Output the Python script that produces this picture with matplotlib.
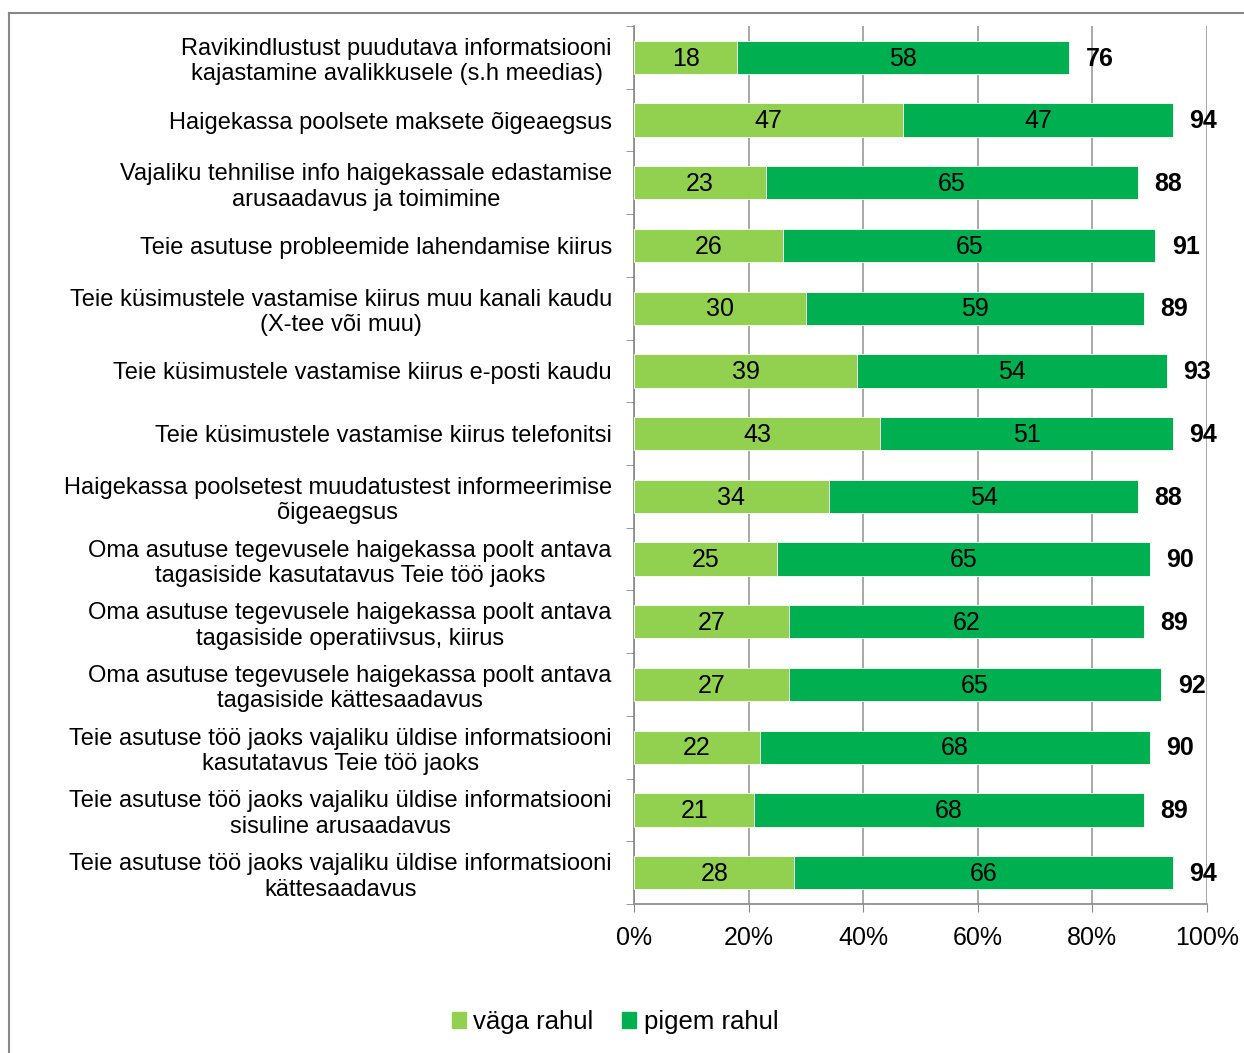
import matplotlib
matplotlib.use("Agg")
import matplotlib.pyplot as plt
from matplotlib.lines import Line2D
import numpy as np

plt.rcParams['font.family'] = ['Liberation Sans', 'DejaVu Sans']

categories = [
    "Ravikindlustust puudutava informatsiooni\nkajastamine avalikkusele (s.h meedias)",
    "Haigekassa poolsete maksete õigeaegsus",
    "Vajaliku tehnilise info haigekassale edastamise\narusaadavus ja toimimine",
    "Teie asutuse probleemide lahendamise kiirus",
    "Teie küsimustele vastamise kiirus muu kanali kaudu\n(X-tee või muu)",
    "Teie küsimustele vastamise kiirus e-posti kaudu",
    "Teie küsimustele vastamise kiirus telefonitsi",
    "Haigekassa poolsetest muudatustest informeerimise\nõigeaegsus",
    "Oma asutuse tegevusele haigekassa poolt antava\ntagasiside kasutatavus Teie töö jaoks",
    "Oma asutuse tegevusele haigekassa poolt antava\ntagasiside operatiivsus, kiirus",
    "Oma asutuse tegevusele haigekassa poolt antava\ntagasiside kättesaadavus",
    "Teie asutuse töö jaoks vajaliku üldise informatsiooni\nkasutatavus Teie töö jaoks",
    "Teie asutuse töö jaoks vajaliku üldise informatsiooni\nsisuline arusaadavus",
    "Teie asutuse töö jaoks vajaliku üldise informatsiooni\nkättesaadavus",
]
vaga_rahul = [18, 47, 23, 26, 30, 39, 43, 34, 25, 27, 27, 22, 21, 28]
pigem_rahul = [58, 47, 65, 65, 59, 54, 51, 54, 65, 62, 65, 68, 68, 66]
totals = [76, 94, 88, 91, 89, 93, 94, 88, 90, 89, 92, 90, 89, 94]
series_names = ["väga rahul", "pigem rahul"]
xticks = [0, 20, 40, 60, 80, 100]
xtick_labels = ["0%", "20%", "40%", "60%", "80%", "100%"]

c_light = "#92D050"
c_dark = "#00B050"

W, H = 1244, 1053
fig = plt.figure(figsize=(W / 100, H / 100), dpi=100)
ax = fig.add_axes([634 / W, 1 - 904 / H, (1207 - 634) / W, (904 - 26) / H])

y = np.arange(len(categories))
bh = 0.53
ax.barh(y, vaga_rahul, height=bh, color=c_light, edgecolor="white", linewidth=0.6, zorder=3)
ax.barh(y, pigem_rahul, left=vaga_rahul, height=bh, color=c_dark, edgecolor="white", linewidth=0.6, zorder=3)

for i in range(len(categories)):
    ax.text(vaga_rahul[i] / 2, y[i] + 0.02, str(vaga_rahul[i]), ha="center", va="center", fontsize=18, zorder=4)
    ax.text(vaga_rahul[i] + pigem_rahul[i] / 2, y[i] + 0.02, str(pigem_rahul[i]), ha="center", va="center", fontsize=18, zorder=4)
    ax.text(totals[i] + 5.3, y[i] + 0.02, str(totals[i]), ha="center", va="center", fontsize=18, fontweight="bold", zorder=4)

ax.set_xlim(0, 100)
ax.set_ylim(len(categories) - 0.5, -0.5)
ax.set_xticks(xticks)
ax.set_xticklabels(xtick_labels, fontsize=18)
ax.set_yticks(y)
ax.set_yticklabels(categories, fontsize=17, linespacing=1.2)
ax.set_yticks(np.arange(-0.5, len(categories), 1), minor=True)
ax.tick_params(axis="y", which="major", length=0, pad=16)
ax.tick_params(axis="y", which="minor", length=6, color="#888888", direction="out")
ax.tick_params(axis="x", which="major", length=6, color="#888888", direction="out", pad=10)
for lbl in ax.get_yticklabels():
    lbl.set_multialignment("center")

ax.grid(axis="x", color="#999999", linewidth=1.2, zorder=0)
for s in ["top", "right"]:
    ax.spines[s].set_visible(False)
for s in ["left", "bottom"]:
    ax.spines[s].set_color("#888888")
    ax.spines[s].set_linewidth(1.2)

handles = [plt.Rectangle((0, 0), 1, 1, color=c_light), plt.Rectangle((0, 0), 1, 1, color=c_dark)]
fig.legend(handles, series_names, loc="center", bbox_to_anchor=(615 / W, 1 - 1022 / H), ncol=2,
           frameon=False, fontsize=18.5, handlelength=0.55, handleheight=0.55, handletextpad=0.3,
           columnspacing=1.1)

fig.add_artist(Line2D([8.5 / W, 1], [1 - 13 / H, 1 - 13 / H], transform=fig.transFigure, color="#888888", linewidth=1.5))
fig.add_artist(Line2D([8.5 / W, 8.5 / W], [0, 1 - 13 / H], transform=fig.transFigure, color="#888888", linewidth=1.5))

fig.savefig("out.png", dpi=100, facecolor="white")
